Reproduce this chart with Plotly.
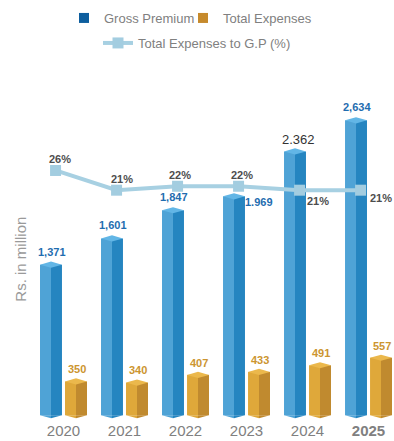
import plotly.graph_objects as go

# ---- data ----
years = ["2020", "2021", "2022", "2023", "2024", "2025"]
gross_premium = [1371, 1601, 1847, 1969, 2362, 2634]
total_expenses = [350, 340, 407, 433, 491, 557]
expense_ratio = [26, 21, 22, 22, 21, 21]
gp_labels = ["1,371", "1,601", "1,847", "1.969", "2.362", "2,634"]
te_labels = ["350", "340", "407", "433", "491", "557"]
ratio_labels = [f"{r}%" for r in expense_ratio]

# ---- styling ----
FONT = "Liberation Sans, Arial, sans-serif"
BLUE = dict(light="#4FA3D6", dark="#2585C0", top="#62B6E6", legend="#0D5E9E")
GOLD = dict(light="#DFA83A", dark="#C08A2F", top="#EBB84C", legend="#C68A2C")
LINE_COL = "#A7D0E2"
BLUE_TXT = "#1F6DB0"
GOLD_TXT = "#CC9530"

BAR_W = 0.36          # full width of one 3D column (x units)
FACE_W = BAR_W / 2    # each visible face
GP_OFF = -0.205       # column offsets within a year group
TE_OFF = 0.205
LINE_OFF = -0.13
D = 27                # depth of the top / bottom rhombus (y units)

idx = list(range(len(years)))
fig = go.Figure()
shapes = []


def add_columns(values, offset, pal):
    centers = [i + offset for i in idx]
    # left (lit) face and right (shaded) face
    fig.add_trace(go.Bar(
        x=[c - FACE_W / 2 for c in centers], y=[v - 2 * D for v in values], base=D,
        width=FACE_W, marker=dict(color=pal["light"], line=dict(width=0)),
        showlegend=False, hoverinfo="skip"))
    fig.add_trace(go.Bar(
        x=[c + FACE_W / 2 for c in centers], y=[v - 2 * D for v in values], base=D,
        width=FACE_W, marker=dict(color=pal["dark"], line=dict(width=0)),
        showlegend=False, hoverinfo="skip"))
    for c, v in zip(centers, values):
        l, r = c - FACE_W, c + FACE_W
        # top face
        shapes.append(dict(type="path", xref="x", yref="y", layer="above",
                           path=f"M{l},{v - D} L{c},{v} L{r},{v - D} L{c},{v - 2 * D} Z",
                           fillcolor=pal["top"], line=dict(width=0)))
        # pointed bottom of both faces
        shapes.append(dict(type="path", xref="x", yref="y", layer="above",
                           path=f"M{l},{D} L{c},{D} L{c},0 Z",
                           fillcolor=pal["light"], line=dict(width=0)))
        shapes.append(dict(type="path", xref="x", yref="y", layer="above",
                           path=f"M{c},{D} L{r},{D} L{c},0 Z",
                           fillcolor=pal["dark"], line=dict(width=0)))


add_columns(gross_premium, GP_OFF, BLUE)
add_columns(total_expenses, TE_OFF, GOLD)

# expense ratio line on its own scale
fig.add_trace(go.Scatter(
    x=[i + LINE_OFF for i in idx], y=expense_ratio, yaxis="y2",
    mode="lines+markers", name="Total Expenses to G.P (%)",
    line=dict(color=LINE_COL, width=4),
    marker=dict(symbol="square", size=11, color="#A3CDE0"),
    legend="legend2", hoverinfo="skip"))

# legend keys for the column series
fig.add_trace(go.Scatter(x=[None], y=[None], mode="markers", name="Gross Premium",
                         marker=dict(symbol="square", size=10, color=BLUE["legend"]),
                         legend="legend"))
fig.add_trace(go.Scatter(x=[None], y=[None], mode="markers", name="Total Expenses",
                         marker=dict(symbol="square", size=10, color=GOLD["legend"]),
                         legend="legend3"))

annotations = []

# value labels on the premium columns: (xshift, yshift, font size, bold, colour)
gp_style = {i: (1, 10, 11, True, BLUE_TXT) for i in idx}
gp_style[3] = (25, -9, 11, True, BLUE_TXT)
gp_style[4] = (3, 9, 13, False, "#333333")
for i, v, t in zip(idx, gross_premium, gp_labels):
    xs, ys, size, bold, col = gp_style[i]
    annotations.append(dict(
        x=i + GP_OFF, y=v, xref="x", yref="y", text=f"<b>{t}</b>" if bold else t,
        showarrow=False, xshift=xs, yshift=ys, yanchor="middle",
        font=dict(family=FONT, size=size, color=col)))

for i, v, t in zip(idx, total_expenses, te_labels):
    annotations.append(dict(
        x=i + TE_OFF, y=v, xref="x", yref="y", text=f"<b>{t}</b>",
        showarrow=False, xshift=1, yshift=9, yanchor="middle",
        font=dict(family=FONT, size=11, color=GOLD_TXT)))

ratio_shift = [(4, 11), (5, 11), (2, 11), (3, 11), (18, -11), (20, -8)]
for i, v, t in zip(idx, expense_ratio, ratio_labels):
    xs, ys = ratio_shift[i]
    annotations.append(dict(
        x=i + LINE_OFF, y=v, xref="x", yref="y2", text=f"<b>{t}</b>",
        showarrow=False, xshift=xs, yshift=ys, yanchor="middle",
        font=dict(family=FONT, size=11, color="#4D4D4D")))

annotations.append(dict(
    x=-0.025, y=0.448, xref="paper", yref="paper", text="Rs. in million",
    textangle=-90, showarrow=False, xanchor="center", yanchor="middle",
    font=dict(family=FONT, size=15, color="#9A9A9A")))

tick_text = years[:-1] + [f"<b>{years[-1]}</b>"]


def legend_box(x_px, y_px):
    return dict(orientation="h", xref="container", yref="container",
                x=x_px / 394, xanchor="left", y=1 - y_px / 441, yanchor="middle",
                font=dict(family=FONT, size=13, color="#808080"),
                bgcolor="rgba(0,0,0,0)")


fig.update_layout(
    width=394, height=441,
    margin=dict(l=30, r=2, t=60, b=16),
    paper_bgcolor="white", plot_bgcolor="white",
    barmode="overlay",
    font=dict(family=FONT, color="#808080"),
    xaxis=dict(range=[-0.549, 5.385], tickmode="array", tickvals=idx, ticktext=tick_text,
               showgrid=False, zeroline=False, showline=False, ticks="",
               tickfont=dict(family=FONT, size=15, color="#808080"), fixedrange=True),
    yaxis=dict(range=[-14.7, 3134.6], visible=False, fixedrange=True),
    yaxis2=dict(range=[-37.25, 54.0], overlaying="y", visible=False, fixedrange=True),
    legend=legend_box(64, 18),
    legend3=legend_box(183, 18),
    legend2=legend_box(98, 43),
    shapes=shapes,
    annotations=annotations,
    showlegend=True,
)

fig.write_html("out.html", config={"displayModeBar": False})
